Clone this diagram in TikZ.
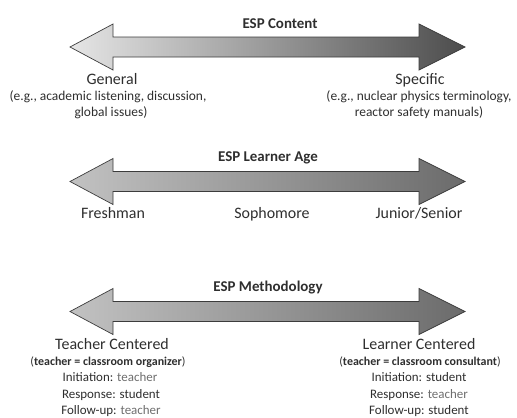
\documentclass[tikz,border=0pt]{standalone}
\usepackage{fontspec}
\setmainfont{Carlito}
\definecolor{txt}{HTML}{2E2E2E}
\definecolor{lite}{HTML}{6E6E6E}
\definecolor{edge}{HTML}{3C3C3C}
\begin{document}
\begin{tikzpicture}[x=1bp,y=-1bp,
  title/.style={anchor=base,text=txt,inner sep=0pt,font=\fontsize{15}{18}\selectfont\bfseries},
  pole/.style={anchor=base,text=txt,inner sep=0pt,font=\fontsize{16}{19}\selectfont},
  note/.style={anchor=base,text=txt,inner sep=0pt,font=\fontsize{13.5}{16}\selectfont},
  small/.style={anchor=base,text=txt,inner sep=0pt,font=\fontsize{13}{16}\selectfont},
  role/.style={anchor=base,text=txt,inner sep=0pt,font=\fontsize{12}{16}\selectfont},
  arrowbody/.style={draw=edge,line width=0.7bp,line join=miter}]
\useasboundingbox (0,0) rectangle (517,417);
\newcommand\dblarrow[3]{%
  \path[arrowbody,left color=#2,right color=#3]
    (70,#1) -- (113,{#1-23}) -- (113,{#1-10}) -- (419,{#1-10}) -- (419,{#1-23})
    -- (465,#1) -- (419,{#1+23}) -- (419,{#1+10}) -- (113,{#1+10}) -- (113,{#1+23}) -- cycle;}
% arrow 1
\dblarrow{47}{white!90!black}{black!70}
\node[title] (t1) at (280,28) {ESP Content};
\node[pole] (g) at (112,84) {General};
\node[note] (g1) at (108,100) {(e.g., academic listening, discussion,};
\node[note] (g2) at (111,116) {global issues)};
\node[pole] (s) at (420,84) {Specific};
\node[note] (s1) at (419,100) {(e.g., nuclear physics terminology,};
\node[note] (s2) at (419,116) {reactor safety manuals)};
% arrow 2
\dblarrow{181.5}{black!24}{black!58}
\node[title] (t2) at (268,161) {ESP Learner Age};
\node[pole] (f) at (113,218) {Freshman};
\node[pole] (so) at (272,218) {Sophomore};
\node[pole] (j) at (419,218) {Junior/Senior};
% arrow 3
\dblarrow{311.5}{black!24}{black!58}
\node[title] (t3) at (268,291) {ESP Methodology};
\node[pole] (tc) at (112,349) {Teacher Centered};
\node[role] (tc1) at (108,365) {(\textbf{teacher = classroom organizer})};
\node[small] (tc2) at (110,381) {Initiation: \textcolor{lite}{teacher}};
\node[small] (tc3) at (111,398) {Response: student};
\node[small] (tc4) at (111,414) {Follow-up: \textcolor{lite}{teacher}};
\node[pole] (lc) at (419,349) {Learner Centered};
\node[role] (lc1) at (420,365) {(\textbf{teacher = classroom consultant})};
\node[small] (lc2) at (419,381) {Initiation: student};
\node[small] (lc3) at (419,398) {Response: \textcolor{lite}{teacher}};
\node[small] (lc4) at (419,414) {Follow-up: student};
\end{tikzpicture}
\end{document}
